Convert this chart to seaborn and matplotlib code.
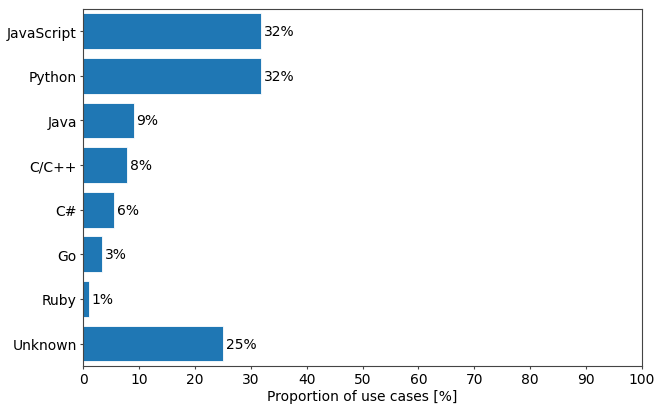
import matplotlib
matplotlib.use("Agg")
import matplotlib.pyplot as plt
import seaborn as sns
import pandas as pd

# values
languages = ["JavaScript", "Python", "Java", "C/C++", "C#", "Go", "Ruby", "Unknown"]
shares = [31.9, 31.9, 9.05, 7.9, 5.6, 3.4, 1.1, 25.1]
pct_labels = ["32%", "32%", "9%", "8%", "6%", "3%", "1%", "25%"]

df = pd.DataFrame({"language": languages, "share": shares})

fig = plt.figure(figsize=(6.64, 4.10), dpi=100)
ax = fig.add_axes([0.125, 0.105, 0.842, 0.871])

sns.barplot(data=df, x="share", y="language", order=languages,
            color="#1f77b4", saturation=1, width=0.8,
            edgecolor="white", linewidth=0.6, ax=ax)

ax.bar_label(ax.containers[0], labels=pct_labels, padding=2, fontsize=10)

ax.set_xlim(0, 100)
ax.set_xticks(range(0, 101, 10))
ax.set_xlabel("Proportion of use cases [%]", fontsize=10, labelpad=2)
ax.set_ylabel("")
ax.tick_params(labelsize=10, length=2, pad=2.5, color="#444444")
for s in ax.spines.values():
    s.set_color("#444444")

fig.savefig("out.png", dpi=100)
